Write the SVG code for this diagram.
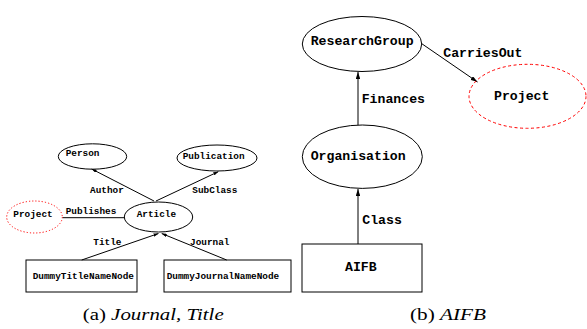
<svg xmlns="http://www.w3.org/2000/svg" width="587" height="329" viewBox="0 0 587 329">
  <style>
    .shape { fill: none; stroke: #000; stroke-width: 1; }
    .proj-dot { fill: none; stroke: #f00; stroke-width: 1; stroke-dasharray: 1.2 2; }
    .proj-dash { fill: none; stroke: #f00; stroke-width: 1; stroke-dasharray: 3 2.5; }
    .edge { fill: none; stroke: #000; stroke-width: 1; }
    .small { font-family: "Liberation Mono", "DejaVu Sans Mono", monospace; font-weight: bold; font-size: 9.4px; fill: #000; }
    .big { font-family: "Liberation Mono", "DejaVu Sans Mono", monospace; font-weight: bold; font-size: 13.2px; fill: #000; }
    .caption { font-family: "Liberation Serif", "Times New Roman", serif; font-size: 17px; fill: #000; }
  </style>
  <defs>
    <marker id="headS" markerWidth="5" markerHeight="3.4" refX="5" refY="1.7" orient="auto" markerUnits="userSpaceOnUse">
      <path d="M0,0 L5,1.7 L0,3.4 z" fill="#000"/>
    </marker>
    <marker id="headL" markerWidth="7" markerHeight="4.4" refX="7" refY="2.2" orient="auto" markerUnits="userSpaceOnUse">
      <path d="M0,0 L7,2.2 L0,4.4 z" fill="#000"/>
    </marker>
  </defs>

  <rect width="587" height="329" fill="#fff"/>

  <!-- connectors -->
  <g id="connectors">
    <path class="edge" d="M154,201 L91.7,169" marker-end="url(#headS)"/>
    <path class="edge" d="M156,201 L218.3,171.7" marker-end="url(#headS)"/>
    <path class="edge" d="M62.5,217.7 L124.5,217.7"/>
    <path class="edge" d="M81.7,260 L158.5,233.5" marker-end="url(#headS)"/>
    <path class="edge" d="M226.7,260 L161.7,233.5" marker-end="url(#headS)"/>
    <path class="edge" d="M358,125 L358,72" marker-end="url(#headL)"/>
    <path class="edge" d="M358,244 L358,189" marker-end="url(#headL)"/>
    <path class="edge" d="M421.5,43.5 L477.5,82" marker-end="url(#headL)"/>
    <text class="small" x="90" y="193">Author</text>
    <text class="small" x="192.3" y="193">SubClass</text>
    <text class="small" x="65.7" y="213.7">Publishes</text>
    <text class="small" x="93.3" y="244.7">Title</text>
    <text class="small" x="190" y="244.7">Journal</text>
    <text class="big" x="361.7" y="103">Finances</text>
    <text class="big" x="362.3" y="224">Class</text>
    <text class="big" x="443.3" y="56.5">CarriesOut</text>
  </g>

  <!-- (a) Journal, Title -->
  <g id="person">
    <ellipse class="shape" cx="92.5" cy="156.5" rx="34.2" ry="12.7"/>
    <text class="small" x="65.7" y="156">Person</text>
  </g>
  <g id="publication">
    <ellipse class="shape" cx="217" cy="158" rx="40" ry="13"/>
    <text class="small" x="182.7" y="158.7">Publication</text>
  </g>
  <g id="project-a">
    <ellipse class="proj-dot" cx="34.5" cy="217" rx="27.8" ry="16"/>
    <text class="small" x="13.3" y="217">Project</text>
  </g>
  <g id="article">
    <ellipse class="shape" cx="158.5" cy="217" rx="34.2" ry="15"/>
    <text class="small" x="136.7" y="217">Article</text>
  </g>
  <g id="dummy-title">
    <rect class="shape" x="26" y="260" width="111" height="32"/>
    <text class="small" x="32.7" y="279">DummyTitleNameNode</text>
  </g>
  <g id="dummy-journal">
    <rect class="shape" x="164" y="260" width="127" height="32"/>
    <text class="small" x="166.7" y="279">DummyJournalNameNode</text>
  </g>

  <!-- (b) AIFB -->
  <g id="research-group">
    <ellipse class="shape" cx="362" cy="44" rx="59.7" ry="27.5"/>
    <text class="big" x="310.7" y="44.5">ResearchGroup</text>
  </g>
  <g id="project-b">
    <ellipse class="proj-dash" cx="527.5" cy="96.3" rx="58.5" ry="32"/>
    <text class="big" x="494" y="100">Project</text>
  </g>
  <g id="organisation">
    <ellipse class="shape" cx="362.3" cy="156.7" rx="60" ry="31.7"/>
    <text class="big" x="310.7" y="159.5">Organisation</text>
  </g>
  <g id="aifb">
    <rect class="shape" x="302" y="244" width="120" height="48"/>
    <text class="big" x="345" y="271">AIFB</text>
  </g>

  <!-- captions -->
  <text class="caption" x="82.7" y="320" textLength="141" lengthAdjust="spacingAndGlyphs">(a) <tspan font-style="italic">Journal, Title</tspan></text>
  <text class="caption" x="410" y="320" textLength="76" lengthAdjust="spacingAndGlyphs">(b) <tspan font-style="italic">AIFB</tspan></text>
</svg>
